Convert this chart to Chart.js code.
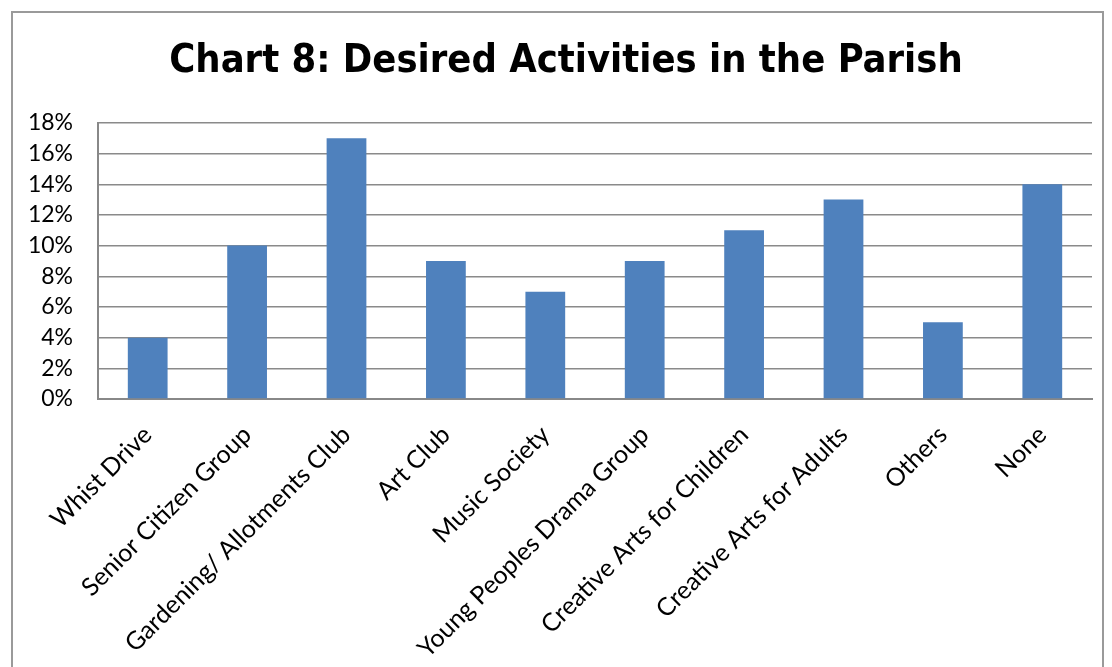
<!DOCTYPE html>
<html>
<head>
<meta charset="utf-8">
<script src="https://cdn.jsdelivr.net/npm/chart.js@4"></script>
<style>
  html, body { margin: 0; padding: 0; background: #fff; }
  #wrap { width: 1112px; height: 667px; }
</style>
</head>
<body>
<div id="wrap"><canvas id="activityChart"></canvas></div>
<script>
// categories and values (percent)
const activities = [
    'Whist Drive',
    'Senior Citizen Group',
    'Gardening/ Allotments Club',
    'Art Club',
    'Music Society',
    'Young Peoples Drama Group',
    'Creative Arts for Children',
    'Creative Arts for Adults',
    'Others',
    'None'
];
const percentages = [4, 10, 17, 9, 7, 9, 11, 13, 5, 14];
const yTicks = [0, 2, 4, 6, 8, 10, 12, 14, 16, 18];

const fontFamily = 'Lato, "Open Sans", sans-serif';

// grey frame around the whole chart, like the spreadsheet chart border
const frame = {
    id: 'frame',
    afterLayout(chart) {
        // the original title is centred a bit right of the canvas middle
        if (chart.titleBlock) chart.titleBlock.left += 40;
    },
    beforeDraw(chart) {
        const ctx = chart.ctx;
        ctx.save();
        ctx.strokeStyle = '#9a9a9a';
        ctx.lineWidth = 2;
        ctx.strokeRect(12, 12, 1091, 700);
        ctx.restore();
    }
};

const ctx = document.getElementById('activityChart').getContext('2d');
const myChart = new Chart(ctx, {
    type: 'bar',
    data: {
        labels: activities,
        datasets: [{
            data: percentages,
            backgroundColor: '#4F81BD',
            categoryPercentage: 1,
            barPercentage: 0.4
        }]
    },
    options: {
        responsive: true,
        maintainAspectRatio: false,
        animation: false,
        layout: { padding: { left: 0, right: 20, top: 0, bottom: 0 } },
        plugins: {
            legend: { display: false },
            tooltip: { enabled: false },
            title: {
                display: true,
                text: 'Chart 8: Desired Activities in the Parish',
                color: '#000',
                font: { family: '"DejaVu Sans Condensed", "DejaVu Sans", sans-serif', size: 39.5, weight: 'bold' },
                padding: { top: 38, bottom: 37.5 }
            }
        },
        scales: {
            x: {
                grid: { display: false },
                border: { display: true, color: '#888', width: 2 },
                ticks: {
                    color: '#000',
                    font: { family: fontFamily, size: 25 },
                    minRotation: 45,
                    maxRotation: 45,
                    autoSkip: false,
                    padding: 13
                },
                afterFit(scale) { scale.height = 268; }
            },
            y: {
                min: 0,
                max: 18,
                afterBuildTicks(scale) {
                    scale.ticks = yTicks.map(v => ({ value: v }));
                },
                grid: { color: '#8a8a8a', lineWidth: 1.5, drawTicks: false },
                border: { display: true, color: '#888', width: 2 },
                ticks: {
                    color: '#000',
                    font: { family: fontFamily, size: 23 },
                    padding: 25,
                    callback: v => v + '%'
                },
                afterFit(scale) { scale.width = 98; }
            }
        }
    },
    plugins: [frame]
});
</script>
</body>
</html>
